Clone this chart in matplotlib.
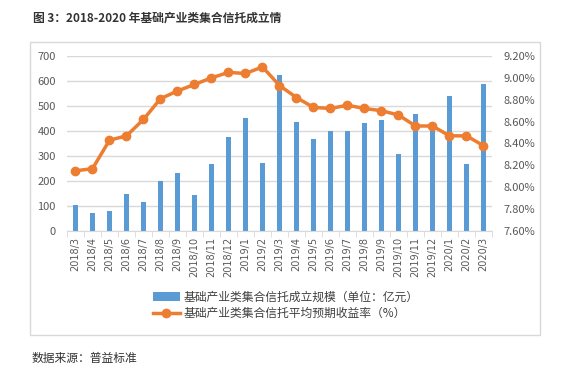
import numpy as np
import matplotlib
matplotlib.use('Agg')
import matplotlib.pyplot as plt
from matplotlib.patches import Rectangle

plt.rcParams['font.family'] = ['Noto Sans CJK SC', 'DejaVu Sans']

months = ['2018/3', '2018/4', '2018/5', '2018/6', '2018/7', '2018/8', '2018/9',
          '2018/10', '2018/11', '2018/12', '2019/1', '2019/2', '2019/3', '2019/4',
          '2019/5', '2019/6', '2019/7', '2019/8', '2019/9', '2019/10', '2019/11',
          '2019/12', '2020/1', '2020/2', '2020/3']
scale = [104, 72, 80, 148, 116, 200, 232, 144, 268, 376, 452, 272, 624, 436,
         368, 400, 400, 432, 444, 308, 468, 420, 540, 268, 588]
yield_pct = [8.15, 8.17, 8.43, 8.47, 8.62, 8.81, 8.88, 8.94, 9.00, 9.05, 9.04, 9.10,
             8.93, 8.82, 8.73, 8.72, 8.75, 8.72, 8.70, 8.66, 8.56, 8.56, 8.47, 8.47, 8.38]

bar_label = '基础产业类集合信托成立规模（单位：亿元）'
line_label = '基础产业类集合信托平均预期收益率（%）'

blue = '#5B9BD5'
orange = '#ED7D31'
grid_c = '#D9D9D9'
txt_c = '#595959'

fig = plt.figure(figsize=(5.61, 3.73), dpi=100)
fig.patch.set_facecolor('white')

# outer frame of the chart
fig.patches.append(Rectangle((0.0535, 0.102), 0.909, 0.7855, transform=fig.transFigure,
                             fill=False, edgecolor=grid_c, linewidth=1))

ax = fig.add_axes([0.1194, 0.3807, 0.7576, 0.4692])
x = np.arange(len(months))
ax.bar(x, scale, width=0.35, color=blue, zorder=2, label=bar_label)
ax.set_ylim(0, 700)
ax.set_yticks(range(0, 701, 100))
ax.set_xlim(-0.5, len(months) - 0.5)
ax.grid(axis='y', color=grid_c, linewidth=1, zorder=0)
ax.set_axisbelow(True)
for s in ['top', 'left', 'right']:
    ax.spines[s].set_visible(False)
ax.spines['bottom'].set_color(grid_c)
ax.set_xticks(x)
ax.set_xticklabels(months, rotation=90, fontsize=7, color=txt_c, family='DejaVu Sans')
ax.set_xticks(np.arange(-0.5, len(months)), minor=True)
ax.tick_params(axis='x', which='major', length=0, pad=4)
ax.tick_params(axis='x', which='minor', length=4, color=grid_c)
ax.tick_params(axis='y', length=0, labelsize=8, labelcolor=txt_c, pad=8)

ax2 = ax.twinx()
ax2.plot(x, yield_pct, color=orange, linewidth=2.5, marker='o', markersize=6,
         label=line_label, zorder=3)
ax2.set_ylim(7.6, 9.2)
ax2.set_yticks(np.arange(7.6, 9.21, 0.2))
ax2.set_yticklabels(['%.2f%%' % v for v in np.arange(7.6, 9.21, 0.2)])
ax2.tick_params(axis='y', length=0, labelsize=8, labelcolor=txt_c, pad=8)
for s in ['top', 'left', 'right', 'bottom']:
    ax2.spines[s].set_visible(False)

h1, l1 = ax.get_legend_handles_labels()
h2, l2 = ax2.get_legend_handles_labels()
fig.legend(h1 + h2, l1 + l2, loc='center', bbox_to_anchor=(0.509, 0.181), frameon=False,
           fontsize=8.5, handlelength=2.3, handletextpad=0.3, labelspacing=0.3,
           labelcolor='#404040')

fig.text(0.059, 0.952, '图 3：2018-2020 年基础产业类集合信托成立情', fontsize=8.5,
         color='#333333', fontweight='bold', va='center')
fig.text(0.057, 0.040, '数据来源：普益标准', fontsize=8.5, color='#333333', va='center')

fig.savefig('out.png', dpi=100)
